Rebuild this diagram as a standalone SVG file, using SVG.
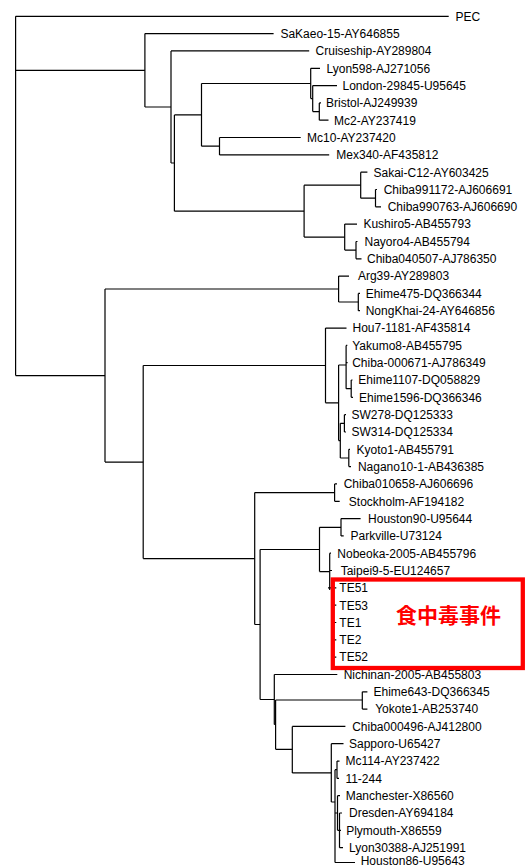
<svg xmlns="http://www.w3.org/2000/svg" width="531" height="868" viewBox="0 0 531 868">
<style>
.c{fill:none;stroke:#000;stroke-width:1.2}
text{font-family:"Liberation Sans",Arial,sans-serif;font-size:12px;fill:#000}
.hl{fill:none;stroke:#ff0000;stroke-width:4.3}
.hlt{font-family:"Noto Sans CJK JP","Noto Sans CJK TC",sans-serif;font-size:21px;font-weight:bold;fill:#ff0000}
</style>
<rect width="531" height="868" fill="#fff"/>
<g id="connectors" class="c">
<path d="M15.6 16.3V375.6M15.6 16.3H448.7M15.6 70.3H144.9M15.6 375.6H105"/>
<path d="M144.9 33.6V107M144.9 33.6H273.6M144.9 107H171"/>
<path d="M171 50.9V163M171 50.9H309.2M171 163H174.4"/>
<path d="M174.4 114.9V211.2M174.4 114.9H201.5M174.4 211.2H304.1"/>
<path d="M201.5 83.5V146.2M201.5 83.5H310.7M201.5 146.2H219.5"/>
<path d="M310.7 68.3V98.6M310.7 68.3H320M310.7 98.6H312.7"/>
<path d="M312.7 85.6V111.6M312.7 85.6H337M312.7 111.6H319.3"/>
<path d="M319.3 102.9V120.2M319.3 102.9H321M319.3 120.2H328.5"/>
<path d="M219.5 137.5V154.9M219.5 137.5H300.7M219.5 154.9H329.2"/>
<path d="M304.1 185.2V237.1M304.1 185.2H360.7M304.1 237.1H344.7"/>
<path d="M360.7 172.2V198.2M360.7 172.2H367.4M360.7 198.2H375.5"/>
<path d="M375.5 189.5V206.8M375.5 189.5H377M375.5 206.8H381"/>
<path d="M344.7 224.1V250.1M344.7 224.1H357M344.7 250.1H356"/>
<path d="M356 241.5V258.8M356 241.5H357.5M356 258.8H361.5"/>
<path d="M105 289V462.1M105 289H338.6M105 462.1H143.2"/>
<path d="M338.6 276.1V302M338.6 276.1H349M338.6 302H358.3"/>
<path d="M358.3 293.4V310.7M358.3 293.4H360M358.3 310.7H360"/>
<path d="M143.2 365.5V558.6M143.2 365.5H325.5M143.2 558.6H254.7"/>
<path d="M325.5 328.1V402.8M325.5 328.1H346.5M325.5 402.8H338.6"/>
<path d="M338.6 365V440.6M338.6 365H346.1M338.6 440.6H340.3"/>
<path d="M346.1 345.4V388.7M346.1 345.4H347.3M346.1 362.7H347.6M346.1 388.7H351.2"/>
<path d="M351.2 380V397.3M351.2 380H352.5M351.2 397.3H353"/>
<path d="M340.3 423.3V458M340.3 423.3H344.4M340.3 458H348.8"/>
<path d="M344.4 414.7V432M344.4 414.7H346M344.4 432H346"/>
<path d="M348.8 449.3V466.6M348.8 449.3H350M348.8 466.6H351"/>
<path d="M254.7 492.6V624.5M254.7 492.6H334.6M254.7 624.5H260.1"/>
<path d="M334.6 483.9V501.3M334.6 483.9H337M334.6 501.3H339.7"/>
<path d="M260.1 549.5V699.5M260.1 549.5H319.5M260.1 699.5H274.3"/>
<path d="M319.5 527.3V571.6M319.5 527.3H341M319.5 571.6H329.7"/>
<path d="M341 518.6V535.9M341 518.6H360.6M341 535.9H343.7"/>
<path d="M329.7 553.2V590M329.7 553.2H331M329.7 570.5H332M328 587.9H331"/>
<path d="M333 587.9V657.1M333 587.9H336.3M333 605.2H336.3M333 622.5H336.3M333 639.8H336.3M333 657.1H336.3"/>
<path d="M274.3 674.5V724.5M274.3 674.5H337.3M274.3 724.5H275.6"/>
<path d="M275.6 700V749.3M275.6 700H362.3M275.6 749.3H292.3"/>
<path d="M362.3 691.8V709.1M362.3 691.8H367.4M362.3 709.1H367.4"/>
<path d="M292.3 726.4V772.9M292.3 726.4H345.4M292.3 772.9H331.3"/>
<path d="M331.3 743.7V802M331.3 743.7H343.5M331.3 802H335"/>
<path d="M335 769.7V862.5M335 769.7H337M335 813H337.5M335 862.5H355"/>
<path d="M337 761.1V778.4M337 761.1H339.5M337 778.4H339"/>
<path d="M337.5 795.7V830.3M337.5 795.7H340M337.5 830.3H339.5"/>
<path d="M339.5 813V847.7M339.5 813H342M339.5 830.3H341M339.5 847.7H343"/>
</g>
<g id="leaf-PEC"><text x="455.5" y="20.6">PEC</text></g>
<g id="leaf-SaKaeo"><text x="280.4" y="37.9">SaKaeo-15-AY646855</text></g>
<g id="leaf-Cruiseship"><text x="315.6" y="55.2">Cruiseship-AY289804</text></g>
<g id="leaf-Lyon598"><text x="326.5" y="72.6">Lyon598-AJ271056</text></g>
<g id="leaf-London"><text x="342.5" y="89.9">London-29845-U95645</text></g>
<g id="leaf-Bristol"><text x="326" y="107.2">Bristol-AJ249939</text></g>
<g id="leaf-Mc2"><text x="334" y="124.5">Mc2-AY237419</text></g>
<g id="leaf-Mc10"><text x="307.1" y="141.8">Mc10-AY237420</text></g>
<g id="leaf-Mex340"><text x="336.3" y="159.2">Mex340-AF435812</text></g>
<g id="leaf-Sakai"><text x="373.5" y="176.5">Sakai-C12-AY603425</text></g>
<g id="leaf-Chiba991172"><text x="383.7" y="193.8">Chiba991172-AJ606691</text></g>
<g id="leaf-Chiba990763"><text x="387.7" y="211.1">Chiba990763-AJ606690</text></g>
<g id="leaf-Kushiro5"><text x="363.4" y="228.4">Kushiro5-AB455793</text></g>
<g id="leaf-Nayoro4"><text x="364.5" y="245.8">Nayoro4-AB455794</text></g>
<g id="leaf-Chiba040507"><text x="367" y="263.1">Chiba040507-AJ786350</text></g>
<g id="leaf-Arg39"><text x="357.9" y="280.4">Arg39-AY289803</text></g>
<g id="leaf-Ehime475"><text x="365.7" y="297.7">Ehime475-DQ366344</text></g>
<g id="leaf-NongKhai"><text x="365.7" y="315">NongKhai-24-AY646856</text></g>
<g id="leaf-Hou7"><text x="352.5" y="332.4">Hou7-1181-AF435814</text></g>
<g id="leaf-Yakumo8"><text x="352.2" y="349.7">Yakumo8-AB455795</text></g>
<g id="leaf-Chiba-000671"><text x="352.2" y="367">Chiba-000671-AJ786349</text></g>
<g id="leaf-Ehime1107"><text x="358.3" y="384.3">Ehime1107-DQ058829</text></g>
<g id="leaf-Ehime1596"><text x="359" y="401.6">Ehime1596-DQ366346</text></g>
<g id="leaf-SW278"><text x="351.5" y="419">SW278-DQ125333</text></g>
<g id="leaf-SW314"><text x="351.5" y="436.3">SW314-DQ125334</text></g>
<g id="leaf-Kyoto1"><text x="356.6" y="453.6">Kyoto1-AB455791</text></g>
<g id="leaf-Nagano10-1"><text x="357.9" y="470.9">Nagano10-1-AB436385</text></g>
<g id="leaf-Chiba010658"><text x="343.7" y="488.2">Chiba010658-AJ606696</text></g>
<g id="leaf-Stockholm"><text x="348.8" y="505.6">Stockholm-AF194182</text></g>
<g id="leaf-Houston90"><text x="368.1" y="522.9">Houston90-U95644</text></g>
<g id="leaf-Parkville"><text x="350.5" y="540.2">Parkville-U73124</text></g>
<g id="leaf-Nobeoka"><text x="337.3" y="557.5">Nobeoka-2005-AB455796</text></g>
<g id="leaf-Taipei"><text x="340.7" y="574.8">Taipei9-5-EU124657</text></g>
<g id="leaf-TE51"><text x="339.3" y="592.2">TE51</text></g>
<g id="leaf-TE53"><text x="339.3" y="609.5">TE53</text></g>
<g id="leaf-TE1"><text x="339.3" y="626.8">TE1</text></g>
<g id="leaf-TE2"><text x="339.3" y="644.1">TE2</text></g>
<g id="leaf-TE52"><text x="339.3" y="661.4">TE52</text></g>
<g id="leaf-Nichinan"><text x="343.7" y="678.8">Nichinan-2005-AB455803</text></g>
<g id="leaf-Ehime643"><text x="373.5" y="696.1">Ehime643-DQ366345</text></g>
<g id="leaf-Yokote1"><text x="375.2" y="713.4">Yokote1-AB253740</text></g>
<g id="leaf-Chiba000496"><text x="352.2" y="730.7">Chiba000496-AJ412800</text></g>
<g id="leaf-Sapporo"><text x="349" y="748">Sapporo-U65427</text></g>
<g id="leaf-Mc114"><text x="345.4" y="765.4">Mc114-AY237422</text></g>
<g id="leaf-11-244"><text x="345.4" y="782.7">11-244</text></g>
<g id="leaf-Manchester"><text x="345.7" y="800">Manchester-X86560</text></g>
<g id="leaf-Dresden"><text x="349" y="817.3">Dresden-AY694184</text></g>
<g id="leaf-Plymouth"><text x="346.2" y="834.6">Plymouth-X86559</text></g>
<g id="leaf-Lyon30388"><text x="349" y="852">Lyon30388-AJ251991</text></g>
<g id="leaf-Houston86"><text x="360.7" y="865.3">Houston86-U95643</text></g>
<g id="outbreak">
<rect class="hl" x="332.8" y="579.5" width="190" height="88.5"/>
<text class="hlt" x="396" y="623">食中毒事件</text>
</g>
</svg>
